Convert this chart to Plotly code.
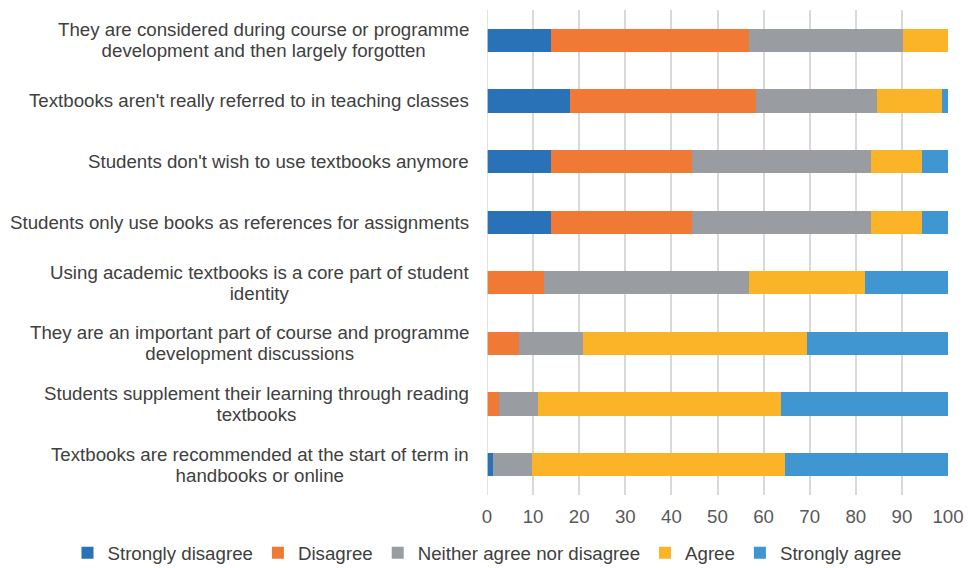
import plotly.graph_objects as go

statements = [
    "They are considered during course or programme<br>development and then largely forgotten",
    "Textbooks aren't really referred to in teaching classes",
    "Students don't wish to use textbooks anymore",
    "Students only use books as references for assignments",
    "Using academic textbooks is a core part of student<br>identity",
    "They are an important part of course and programme<br>development discussions",
    "Students supplement their learning through reading<br>textbooks",
    "Textbooks are recommended at the start of term in<br>handbooks or online",
]

strongly_disagree = [13.8, 17.9, 13.8, 13.8, 0.0, 0.0, 0.0, 1.3]
disagree = [43.0, 40.4, 30.6, 30.6, 12.4, 6.9, 2.6, 0.0]
neither = [33.4, 26.4, 38.8, 38.8, 44.4, 13.9, 8.5, 8.5]
agree = [9.8, 14.1, 11.2, 11.2, 25.1, 48.6, 52.7, 54.9]
strongly_agree = [0.0, 1.2, 5.6, 5.6, 18.1, 30.6, 36.2, 35.3]

series_names = ["Strongly disagree", "Disagree", "Neither agree nor disagree", "Agree", "Strongly agree"]
series_values = [strongly_disagree, disagree, neither, agree, strongly_agree]
colors = ["#2A72B8", "#F07A35", "#999DA1", "#FBB428", "#3F96D0"]

x_ticks = list(range(0, 101, 10))

FONT = "Liberation Sans, Arial, sans-serif"
FS = 18.7

fig = go.Figure()
for name, vals, col in zip(series_names, series_values, colors):
    fig.add_trace(go.Bar(
        y=statements, x=vals, name=name, orientation="h",
        marker=dict(color=col, line=dict(width=0)),
    ))

for s in statements:
    label = "<br>".join(f'<span style="font-size:{FS}px">{part}</span>' for part in s.split("<br>"))
    fig.add_annotation(
        x=0, xref="paper", y=s, yref="y", text=label, showarrow=False,
        xanchor="right", yanchor="middle", align="center", xshift=-16,
        font=dict(family=FONT, size=16, color="#404040"),
    )

fig.update_layout(
    width=968, height=568,
    barmode="stack", bargap=0.615,
    plot_bgcolor="white", paper_bgcolor="white",
    margin=dict(l=487, r=20, t=10, b=73, autoexpand=False),
    font=dict(family=FONT, size=FS, color="#595959"),
    showlegend=True,
    legend=dict(
        orientation="h", xref="paper", yref="paper",
        x=-0.91, xanchor="left", y=-0.12, yanchor="middle",
        font=dict(family=FONT, size=FS, color="#404040"), traceorder="normal",
        bgcolor="rgba(0,0,0,0)",
    ),
    xaxis=dict(
        range=[0, 100], tickvals=x_ticks, showgrid=True,
        gridcolor="#D9D9D9", gridwidth=1.5, zeroline=False,
        showline=False, ticks="outside", ticklen=5, tickcolor="rgba(0,0,0,0)",
        tickfont=dict(family=FONT, size=FS, color="#595959"),
    ),
    yaxis=dict(
        categoryorder="array", categoryarray=statements, autorange="reversed",
        showticklabels=False, showgrid=False, zeroline=False, showline=False,
    ),
)
fig.add_vline(x=0, line=dict(color="#D9D9D9", width=1.5))

fig.write_html("out.html", config={"displayModeBar": False},
               post_script="document.body.style.margin='0';")
